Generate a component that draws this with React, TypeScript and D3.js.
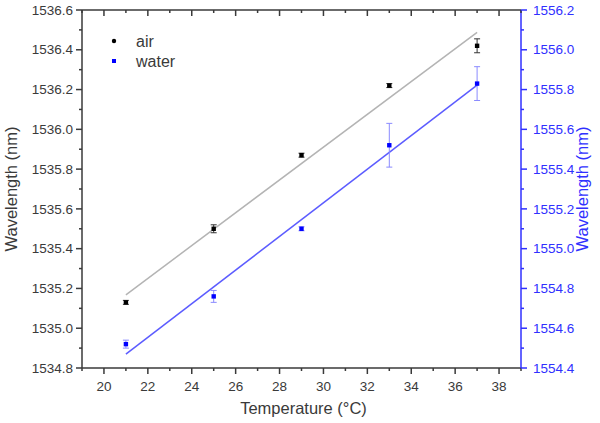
import React from "react";
import * as d3 from "d3";

const temps = [21, 25, 29, 33, 37];
const airValues = [1535.13, 1535.5, 1535.87, 1536.22, 1536.42];
const airErrors = [0.01, 0.02, 0.01, 0.01, 0.035];
const waterValues = [1554.52, 1554.76, 1555.1, 1555.52, 1555.83];
const waterErrors = [0.02, 0.03, 0.01, 0.11, 0.085];
const xTicks = [20, 22, 24, 26, 28, 30, 32, 34, 36, 38];
const leftTicks = [1534.8, 1535.0, 1535.2, 1535.4, 1535.6, 1535.8, 1536.0, 1536.2, 1536.4, 1536.6];
const rightTicks = [1554.4, 1554.6, 1554.8, 1555.0, 1555.2, 1555.4, 1555.6, 1555.8, 1556.0, 1556.2];
const legendLabels = ["air", "water"];

const W = 600, H = 423;
const L = 82, R = 521, T = 10, B = 368;
const FONT = "Arial, 'Liberation Sans', sans-serif";
const GREY = "#3a3a3a";
const BLUE = "#3030ff";

function fit(xs: number[], ys: number[]) {
  const mx = d3.mean(xs)!, my = d3.mean(ys)!;
  let num = 0, den = 0;
  xs.forEach((x, i) => { num += (x - mx) * (ys[i] - my); den += (x - mx) ** 2; });
  const s = num / den;
  return (x: number) => my + s * (x - mx);
}

export default function App() {
  const x = d3.scaleLinear().domain([19, 39]).range([L, R]);
  const yL = d3.scaleLinear().domain([1534.8, 1536.6]).range([B, T]);
  const yR = d3.scaleLinear().domain([1554.4, 1556.2]).range([B, T]);
  const airFit = fit(temps, airValues);
  const waterFit = fit(temps, waterValues);
  const x0 = temps[0], x1 = temps[temps.length - 1];
  const minorX = d3.range(19, 40, 1).filter((v) => v % 2 === 1);
  const minorL = d3.range(0, 9).map((i) => 1534.9 + i * 0.2);
  const minorR = d3.range(0, 9).map((i) => 1554.5 + i * 0.2);

  const series = [
    { vals: airValues, errs: airErrors, y: yL, color: "#000", errColor: "#333", line: d3.line<number>().x((d) => x(d)).y((d) => yL(airFit(d))), lineColor: "#b4b4b4" },
    { vals: waterValues, errs: waterErrors, y: yR, color: "#0000ff", errColor: "#8a8aff", line: d3.line<number>().x((d) => x(d)).y((d) => yR(waterFit(d))), lineColor: "#5c5cff" },
  ];

  return (
    <svg width={W} height={H} style={{ position: "absolute", left: 0, top: 0, background: "#fff" }} fontFamily={FONT}>
      <rect width={W} height={H} fill="#fff" />
      {series.map((s, i) => (
        <path key={"l" + i} d={s.line([x0, x1])!} stroke={s.lineColor} strokeWidth={1.5} fill="none" />
      ))}
      {series.map((s, si) => (
        <g key={"s" + si}>
          {temps.map((t, i) => {
            const cx = x(t);
            const yt = s.y(s.vals[i] + s.errs[i]);
            const yb = s.y(s.vals[i] - s.errs[i]);
            const cy = s.y(s.vals[i]);
            return (
              <g key={i}>
                <line x1={cx} x2={cx} y1={yt} y2={yb} stroke={s.errColor} strokeWidth={1} />
                <line x1={cx - 3} x2={cx + 3} y1={yt} y2={yt} stroke={s.errColor} strokeWidth={1} />
                <line x1={cx - 3} x2={cx + 3} y1={yb} y2={yb} stroke={s.errColor} strokeWidth={1} />
                <rect x={cx - 2.2} y={cy - 2.2} width={4.4} height={4.4} fill={s.color} />
              </g>
            );
          })}
        </g>
      ))}
      <line x1={L} x2={R} y1={T} y2={T} stroke={GREY} strokeWidth={1.5} />
      <line x1={L} x2={R} y1={B} y2={B} stroke={GREY} strokeWidth={1.5} />
      <line x1={L} x2={L} y1={T} y2={B} stroke={GREY} strokeWidth={1.5} />
      <line x1={R} x2={R} y1={T} y2={B} stroke={BLUE} strokeWidth={1.5} />
      {xTicks.map((v) => (
        <g key={"x" + v}>
          <line x1={x(v)} x2={x(v)} y1={B} y2={B + 6} stroke={GREY} strokeWidth={1.5} />
          <line x1={x(v)} x2={x(v)} y1={T} y2={T + 6} stroke={GREY} strokeWidth={1.5} />
          <text x={x(v)} y={B + 23} textAnchor="middle" fontSize={13.5} fill={GREY}>{v}</text>
        </g>
      ))}
      {minorX.map((v) => (
        <g key={"mx" + v}>
          <line x1={x(v)} x2={x(v)} y1={B} y2={B + 3} stroke={GREY} strokeWidth={1.5} />
          <line x1={x(v)} x2={x(v)} y1={T} y2={T + 3} stroke={GREY} strokeWidth={1.5} />
        </g>
      ))}
      {leftTicks.map((v) => (
        <g key={"yl" + v}>
          <line x1={L - 6} x2={L} y1={yL(v)} y2={yL(v)} stroke={GREY} strokeWidth={1.5} />
          <text x={L - 9} y={yL(v) + 4.7} textAnchor="end" fontSize={13.5} fill={GREY}>{v.toFixed(1)}</text>
        </g>
      ))}
      {minorL.map((v) => (
        <line key={"ml" + v} x1={L - 3} x2={L} y1={yL(v)} y2={yL(v)} stroke={GREY} strokeWidth={1.5} />
      ))}
      {rightTicks.map((v) => (
        <g key={"yr" + v}>
          <line x1={R} x2={R + 6} y1={yR(v)} y2={yR(v)} stroke={BLUE} strokeWidth={1.5} />
          <text x={R + 12} y={yR(v) + 4.7} textAnchor="start" fontSize={13.5} fill={BLUE}>{v.toFixed(1)}</text>
        </g>
      ))}
      {minorR.map((v) => (
        <line key={"mr" + v} x1={R} x2={R + 3} y1={yR(v)} y2={yR(v)} stroke={BLUE} strokeWidth={1.5} />
      ))}
      <text transform={`translate(17,${(T + B) / 2}) rotate(-90)`} textAnchor="middle" fontSize={16.5} fill={GREY}>Wavelength (nm)</text>
      <text transform={`translate(588,${(T + B) / 2}) rotate(-90)`} textAnchor="middle" fontSize={16.5} fill={BLUE}>Wavelength (nm)</text>
      <text x={(L + R) / 2 + 2} y={414} textAnchor="middle" fontSize={16.5} fill={GREY}>Temperature (°C)</text>
      {legendLabels.map((lab, i) => (
        <g key={lab}>
          {i === 0 ? (
            <circle cx={114} cy={41 + i * 20} r={2.2} fill="#000" />
          ) : (
            <rect x={112} y={59 + (i - 1) * 20} width={4} height={4} fill="#0000ff" />
          )}
          <text x={136} y={46.5 + i * 20} fontSize={16} fill={GREY}>{lab}</text>
        </g>
      ))}
    </svg>
  );
}
